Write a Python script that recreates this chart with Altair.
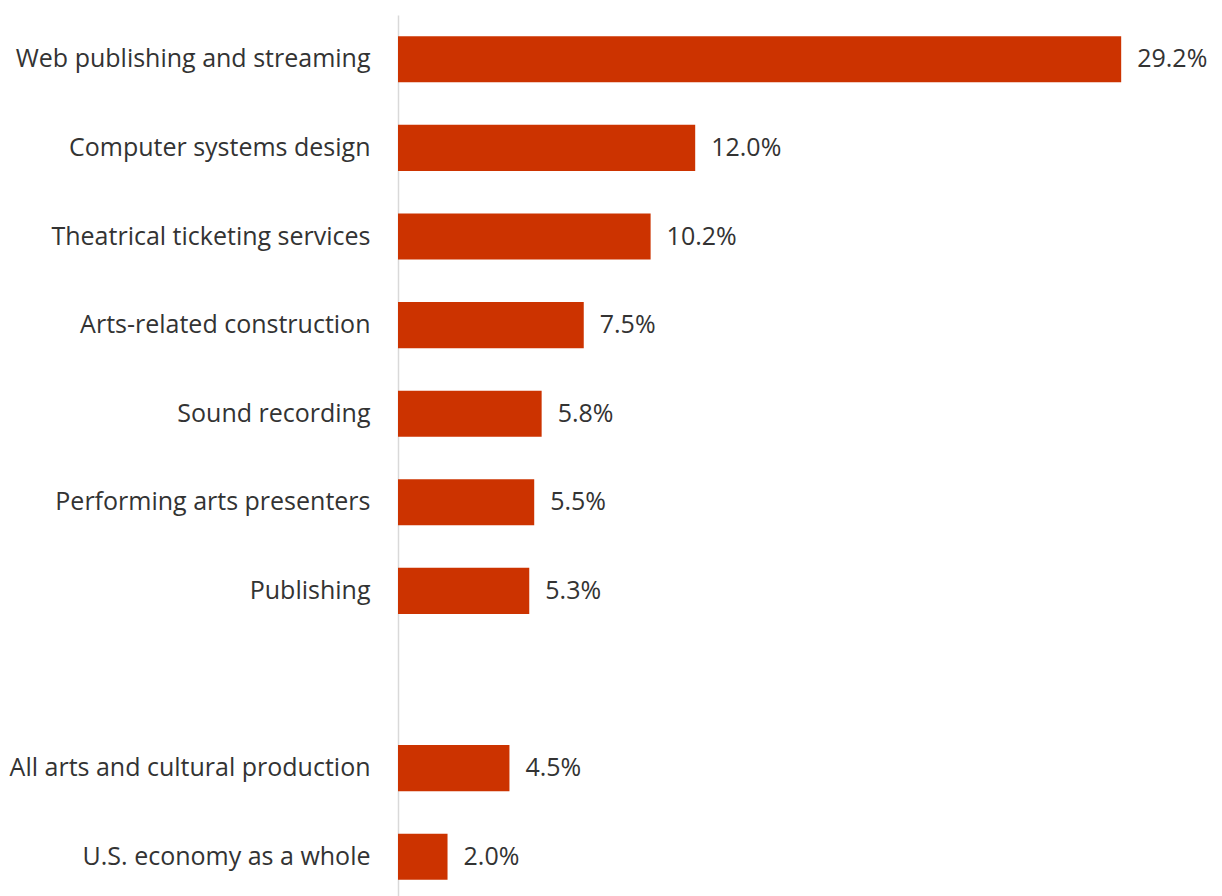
import altair as alt
import pandas as pd

categories = [
    "Web publishing and streaming",
    "Computer systems design",
    "Theatrical ticketing services",
    "Arts-related construction",
    "Sound recording",
    "Performing arts presenters",
    "Publishing",
    " ",
    "All arts and cultural production",
    "U.S. economy as a whole",
]
values = [29.2, 12.0, 10.2, 7.5, 5.8, 5.5, 5.3, None, 4.5, 2.0]

df = pd.DataFrame({"category": categories, "value": values})
df["label"] = [f"{v:.1f}%" if v is not None and v == v else "" for v in values]
bars_df = df[df["value"].notna()]

FONT = "Open Sans"
y_enc = alt.Y(
    "category:N",
    sort=categories,
    scale=alt.Scale(domain=categories, paddingInner=0.48, paddingOuter=0.24),
    axis=alt.Axis(
        title=None,
        ticks=False,
        labelPadding=28,
        labelFontSize=25,
        labelFont=FONT,
        labelColor="#333333",
        domainColor="#d9d9d9",
        domainWidth=1.5,
        labelLimit=400,
    ),
)
x_enc = alt.X(
    "value:Q",
    scale=alt.Scale(domain=[0, 30], nice=False, zero=True),
    axis=None,
)

base = alt.Chart(bars_df)
bars = base.mark_bar(color="#cc3300", cornerRadius=0).encode(x=x_enc, y=y_enc)
text = base.mark_text(
    align="left", baseline="middle", dx=16, fontSize=25, font=FONT, color="#333333"
).encode(x=x_enc, y=y_enc, text="label:N")

chart = (
    alt.layer(bars, text)
    .properties(
        width=743,
        height=886,
        background="white",
        autosize=alt.AutoSizeParams(type="none"),
        padding={"left": 398, "top": 15, "right": 81, "bottom": 0},
    )
    .configure_view(strokeWidth=0, stroke="transparent")
)

chart.save("out.html", embed_options={"renderer": "svg", "actions": False})
